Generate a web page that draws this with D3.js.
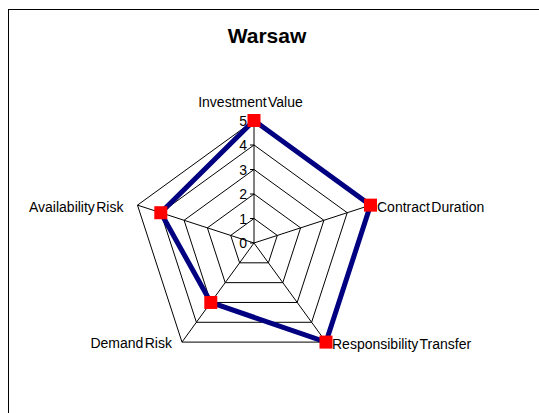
<!DOCTYPE html>
<html lang="en">
<head>
<meta charset="UTF-8">
<script src="https://d3js.org/d3.v7.min.js"></script>
<style>
    body { margin: 0; background: #fff; font-family: "Liberation Sans", Arial, sans-serif; }
    svg { display: block; }
    .grid { fill: none; stroke: #000; stroke-width: 1px; }
    .axis-label { font-size: 14px; word-spacing: -2.5px; fill: #000; }
    .tick-label { font-size: 14px; fill: #000; }
</style>
</head>
<body>
<div id="chart"></div>
<script>
    // Data
    const categories = ["Investment Value", "Contract Duration", "Responsibility Transfer", "Demand Risk", "Availability Risk"];
    const values = [5, 5, 5, 3, 4];
    const ticks = [0, 1, 2, 3, 4, 5];
    const title = "Warsaw";

    const W = 539, H = 413;
    const cx = 254, cy = 243, R = 122.5;

    const svg = d3.select("#chart").append("svg")
        .attr("width", W)
        .attr("height", H);

    // outer frame
    svg.append("rect")
        .attr("x", 8.5).attr("y", 9.5)
        .attr("width", W + 10).attr("height", H + 10)
        .attr("fill", "#fff")
        .attr("stroke", "#000")
        .attr("stroke-width", 1);

    svg.append("text")
        .attr("x", 267)
        .attr("y", 43)
        .attr("text-anchor", "middle")
        .style("font-size", "21px")
        .style("font-weight", "bold")
        .text(title);

    const r = d3.scaleLinear().domain([0, 5]).range([0, R]);
    const angle = d3.scaleLinear().domain([0, categories.length]).range([0, 2 * Math.PI]);

    const pt = (i, v) => [cx + r(v) * Math.sin(angle(i)), cy - r(v) * Math.cos(angle(i))];

    const g = svg.append("g");

    // grid pentagons
    g.selectAll(".ring")
        .data(ticks.slice(1))
        .enter().append("polygon")
        .attr("class", "grid")
        .attr("points", t => categories.map((c, i) => pt(i, t).join(",")).join(" "));

    // spokes
    g.selectAll(".spoke")
        .data(categories)
        .enter().append("line")
        .attr("class", "grid")
        .attr("x1", cx).attr("y1", cy)
        .attr("x2", (d, i) => pt(i, 5)[0])
        .attr("y2", (d, i) => pt(i, 5)[1]);

    // value axis ticks and labels
    g.selectAll(".tick")
        .data(ticks)
        .enter().append("line")
        .attr("class", "grid")
        .attr("x1", cx - 4).attr("x2", cx)
        .attr("y1", t => cy - r(t)).attr("y2", t => cy - r(t));

    g.selectAll(".tick-label")
        .data(ticks)
        .enter().append("text")
        .attr("class", "tick-label")
        .attr("x", cx - 7)
        .attr("y", t => cy - r(t) + 5)
        .attr("text-anchor", "end")
        .text(t => t);

    // series
    const line = d3.line().curve(d3.curveLinearClosed);
    g.append("path")
        .attr("d", line(values.map((v, i) => pt(i, v))))
        .attr("fill", "none")
        .attr("stroke", "#000080")
        .attr("stroke-width", 5)
        .attr("stroke-linejoin", "miter");

    g.selectAll(".marker")
        .data(values)
        .enter().append("rect")
        .attr("x", (v, i) => pt(i, v)[0] - 6.5)
        .attr("y", (v, i) => pt(i, v)[1] - 6.5)
        .attr("width", 13).attr("height", 13)
        .attr("fill", "#ff0000");

    // category labels
    const labelPos = [
        { dx: -3.5, dy: -14, anchor: "middle" },
        { dx: 6.5, dy: 6.5, anchor: "start" },
        { dx: 6, dy: 6.5, anchor: "start" },
        { dx: -10, dy: 6, anchor: "end" },
        { dx: -14, dy: 7, anchor: "end" }
    ];
    g.selectAll(".axis-label")
        .data(categories)
        .enter().append("text")
        .attr("class", "axis-label")
        .attr("x", (d, i) => pt(i, 5)[0] + labelPos[i].dx)
        .attr("y", (d, i) => pt(i, 5)[1] + labelPos[i].dy)
        .attr("text-anchor", (d, i) => labelPos[i].anchor)
        .text(d => d);
</script>
</body>
</html>
